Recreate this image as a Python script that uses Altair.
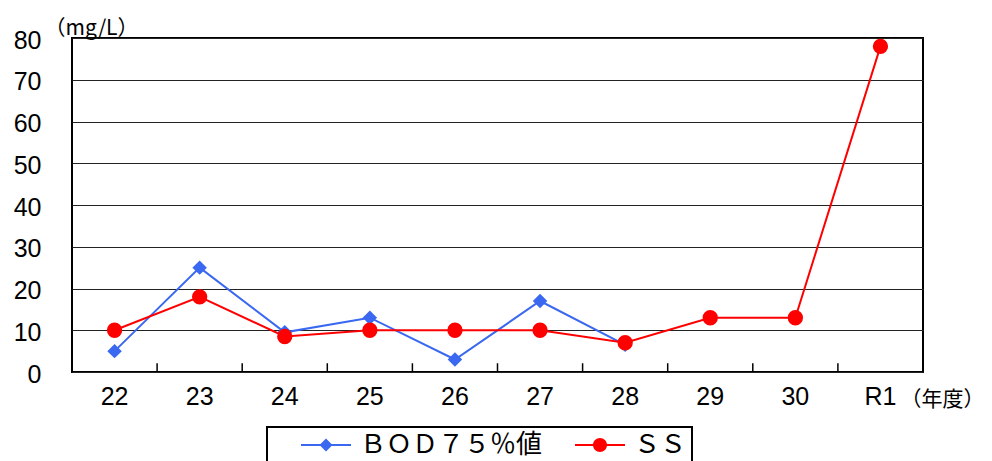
import altair as alt
import pandas as pd

years = ["22", "23", "24", "25", "26", "27", "28", "29", "30", "R1"]
bod = [5, 25, 9.5, 13, 3, 17, 6.5, None, None, None]
ss = [10, 18, 8.5, 10, 10, 10, 7, 13, 13, 78]
series_names = ["ＢＯＤ７５％値", "ＳＳ"]
series_colors = ["#3a68f0", "#ff0000"]
y_ticks = [0, 10, 20, 30, 40, 50, 60, 70, 80]

rows = []
for name, vals in zip(series_names, [bod, ss]):
    for yr, v in zip(years, vals):
        if v is not None:
            rows.append({"year": yr, "series": name, "value": v})
df = pd.DataFrame(rows)
tick_df = pd.DataFrame({"year": years[1:]})

# legend symbol paths (line as thin bar + marker)
k = 0.5523 * 0.7
r = 0.7
circle = (f"M{r},0C{r},{k} {k},{r} 0,{r}C{-k},{r} {-r},{k} {-r},0"
          f"C{-r},{-k} {-k},{-r} 0,{-r}C{k},{-r} {r},{-k} {r},0Z")
bar = "M-2.5,-0.1H2.5V0.1H-2.5Z"
path_bod = bar + "M0,-0.65L0.65,0L0,0.65L-0.65,0Z"
path_ss = bar + circle

X = alt.X("year:N", sort=years, scale=alt.Scale(domain=years, paddingInner=0, paddingOuter=0),
          axis=alt.Axis(title="（年度）", labelAngle=0, labelAlign="center", labelFontSize=25,
                        labelPadding=24, labelFont="Liberation Sans", labelColor="black",
                        ticks=False, domain=False, bandPosition=0.5,
                        titleFont="Noto Sans CJK JP", titleFontSize=21, titleFontWeight="normal",
                        titleX=870, titleY=33, titleAlign="center", titleBaseline="alphabetic",
                        titleColor="black"))
Y = alt.Y("value:Q", scale=alt.Scale(domain=[0, 80], nice=False),
          axis=alt.Axis(values=y_ticks, title="（mg/L）", titleAngle=0, titleX=19, titleY=-4,
                        titleAlign="center", titleBaseline="alphabetic", titleFont="Noto Sans CJK JP",
                        titleFontSize=21, titleFontWeight="normal", titleColor="black",
                        labelFontSize=25, labelFont="Liberation Sans", labelColor="black",
                        labelPadding=31, labelOffset=2, ticks=False, domain=False, grid=True,
                        gridColor="#222222", gridWidth=1))

legend = alt.Legend(
    title=None, orient="none", legendX=195, legendY=389, direction="horizontal",
    strokeColor="black", fillColor="white", padding=5,
    symbolSize=400, symbolOffset=41, labelOffset=21, symbolOpacity=1,
    columnPadding=3, labelFontSize=26, labelFont="Noto Sans CJK JP", labelColor="black",
    labelLimit=400,
    labelExpr="datum.label == 'ＳＳ' ? 'ＳＳ\u3000' : datum.label",
)

layers = []
for name, col in zip(series_names, series_colors):
    base = alt.Chart(df).transform_filter(alt.datum.series == name)
    layers.append(base.mark_line(strokeWidth=2, color=col).encode(x=X, y=Y))
for name, col, shp, sz in zip(series_names, series_colors, ["diamond", "circle"], [210, 235]):
    base = alt.Chart(df).transform_filter(alt.datum.series == name)
    layers.append(base.mark_point(filled=True, opacity=1, shape=shp, size=sz, color=col)
                  .encode(x=X, y=Y))

legend_layer = alt.Chart(df).transform_filter("false").mark_point(filled=True, opacity=1).encode(
    x=X, y=Y,
    color=alt.Color("series:N", scale=alt.Scale(domain=series_names, range=series_colors),
                    legend=legend, sort=series_names),
    shape=alt.Shape("series:N", scale=alt.Scale(domain=series_names, range=[path_bod, path_ss]),
                    legend=legend, sort=series_names),
)
ticks = alt.Chart(tick_df).mark_rule(color="black", strokeWidth=1.5).encode(
    x=alt.X("year:N", sort=years, bandPosition=0),
    y=alt.datum(0), y2=alt.datum(2.1),
)

chart = alt.layer(ticks, *layers, legend_layer).properties(
    width=851, height=334,
    autosize=alt.AutoSizeParams(type="none"),
    padding={"left": 64, "top": 30, "right": 61, "bottom": 89},
).configure_view(stroke="black", strokeWidth=2).configure_legend(strokeWidth=2)

chart.save("out.html", embed_options={"renderer": "svg", "actions": False})
